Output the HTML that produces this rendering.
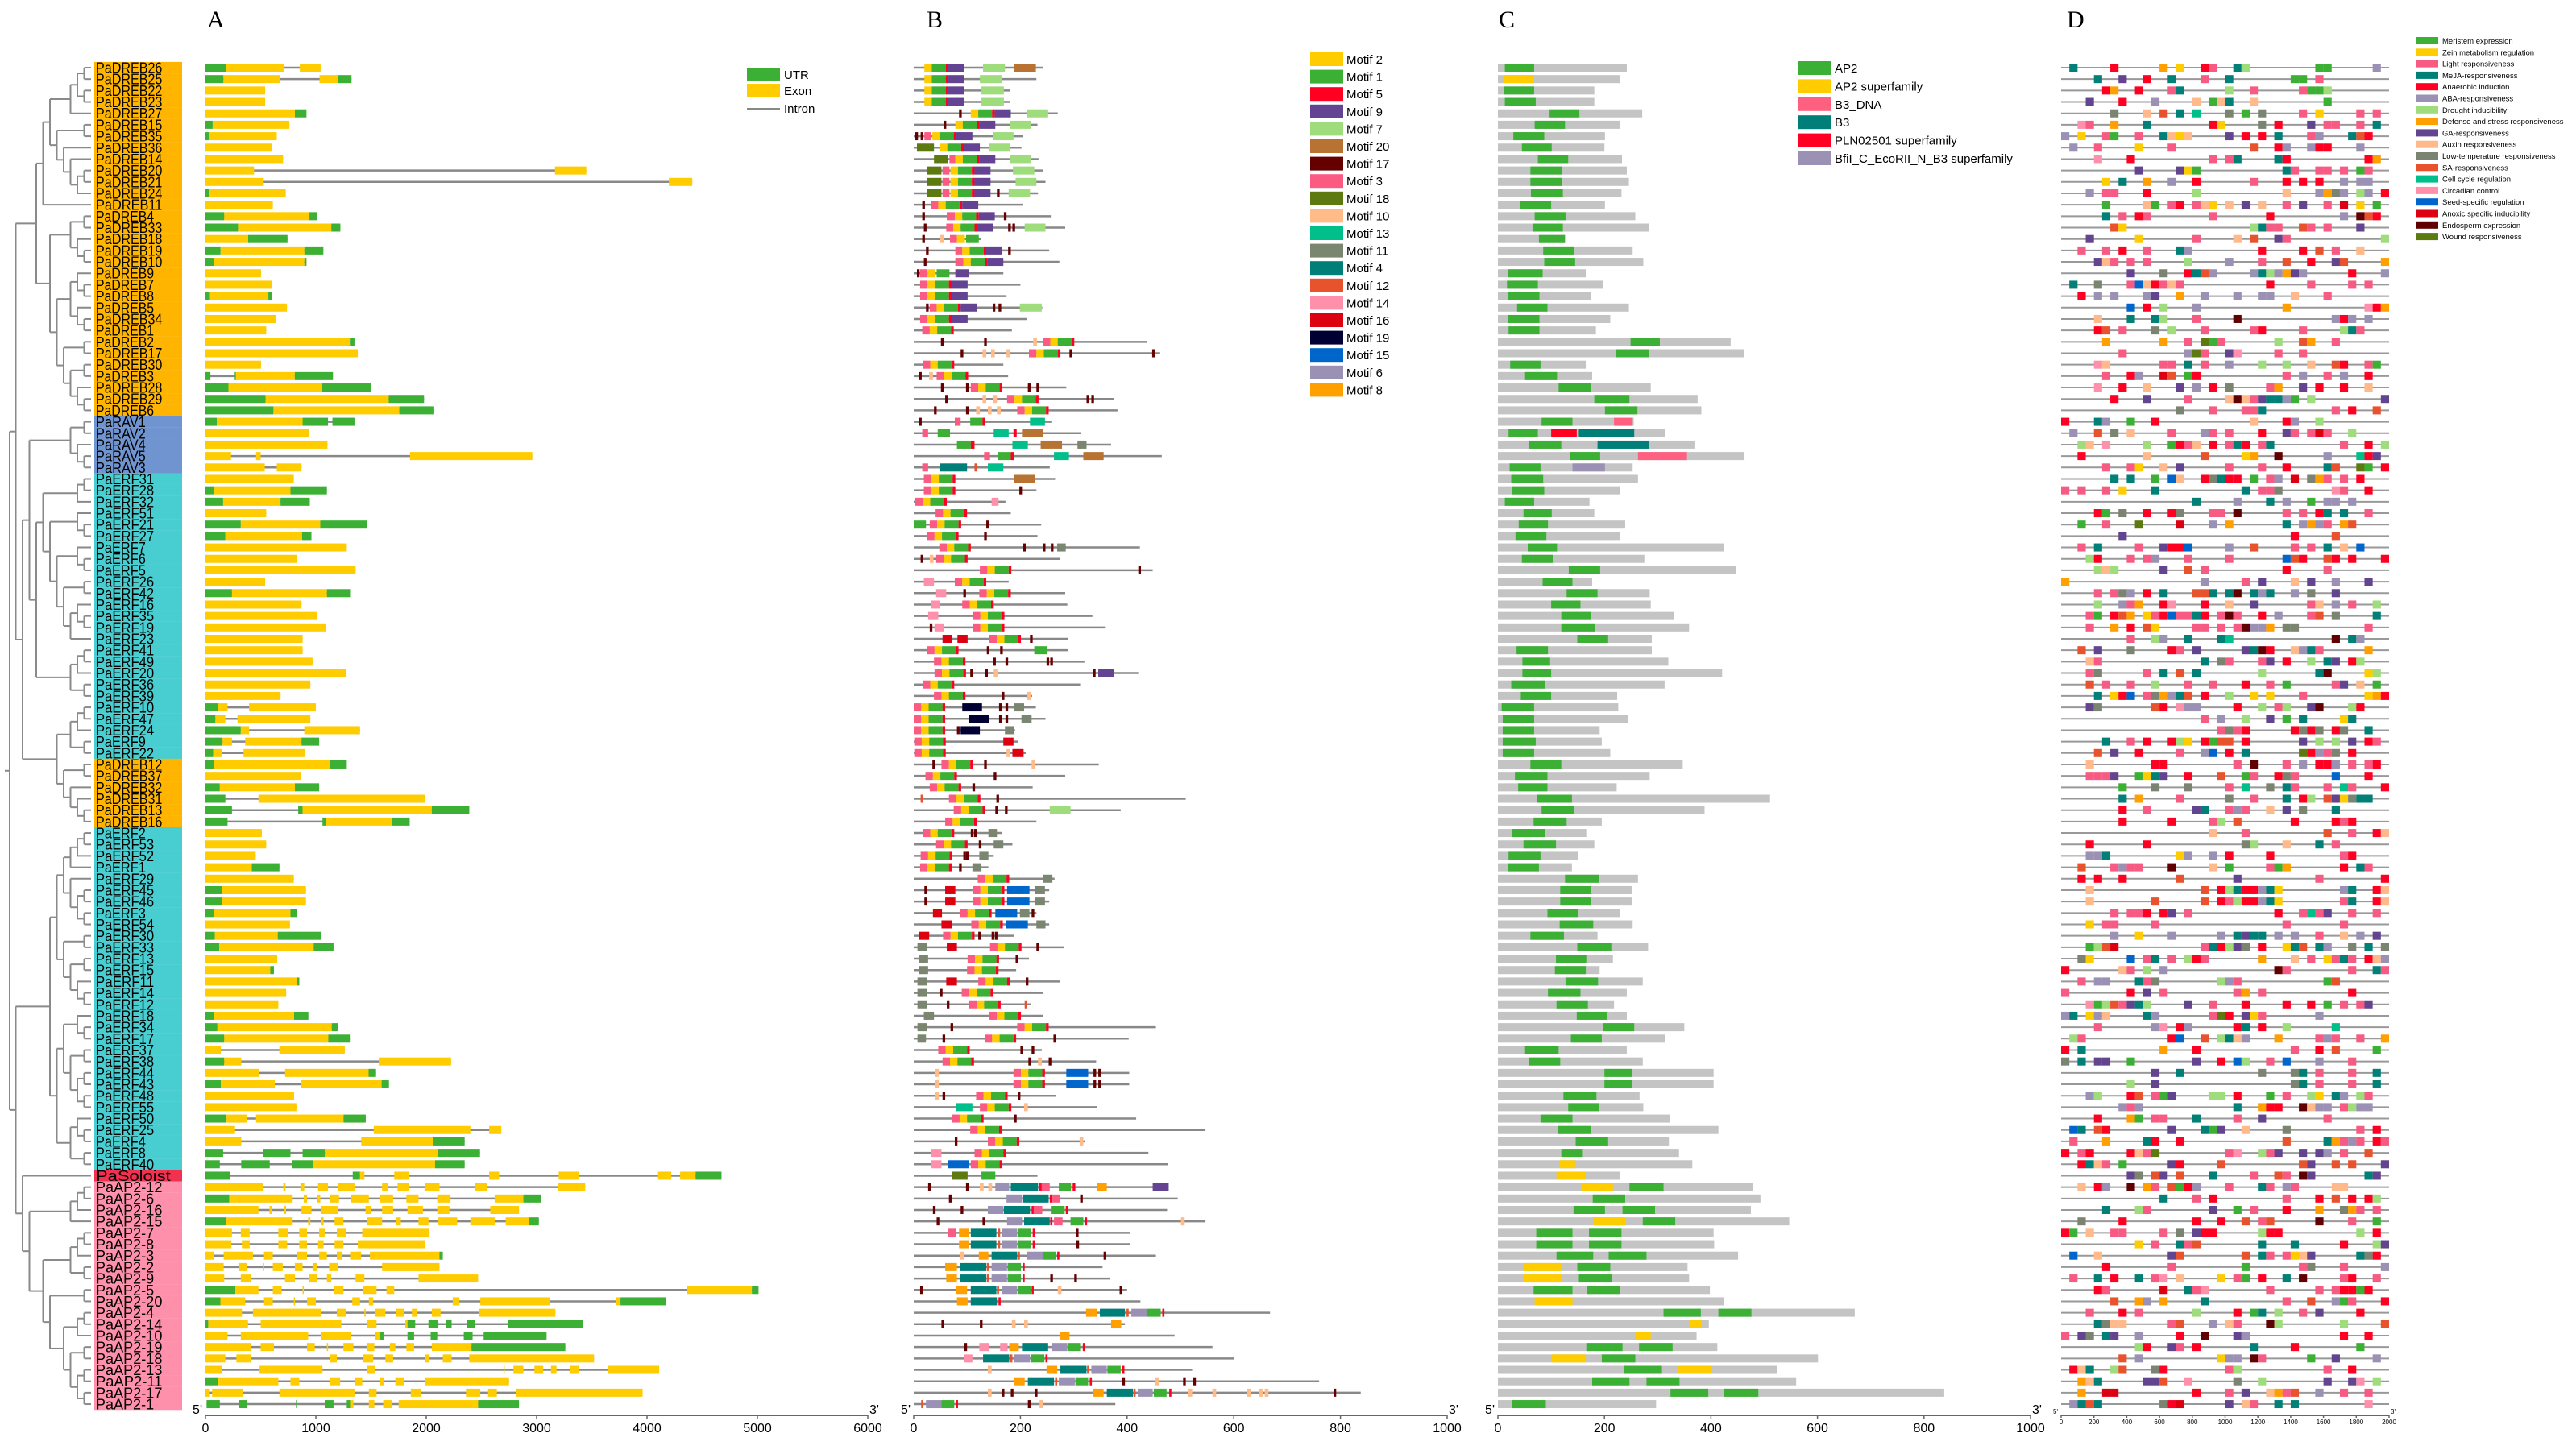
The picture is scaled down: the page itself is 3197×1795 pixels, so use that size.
<!DOCTYPE html>
<html><head><meta charset="utf-8"><title>AP2/ERF gene family figure</title>
<style>
html,body{margin:0;padding:0;background:#fff;}
svg{display:block;font-family:"Liberation Sans",sans-serif;}
</style></head>
<body>
<svg id="fig" xmlns="http://www.w3.org/2000/svg" width="3197" height="1795" viewBox="0 0 3197 1795">
<g font-family="Liberation Serif, serif" font-size="30" fill="#000">
<text x="257" y="34">A</text>
<text x="1150" y="34">B</text>
<text x="1860" y="34">C</text>
<text x="2565" y="34">D</text>
</g>
</svg>
<script>
const genes=["PaDREB26","PaDREB25","PaDREB22","PaDREB23","PaDREB27","PaDREB15","PaDREB35","PaDREB36","PaDREB14","PaDREB20","PaDREB21","PaDREB24","PaDREB11","PaDREB4","PaDREB33","PaDREB18","PaDREB19","PaDREB10","PaDREB9","PaDREB7","PaDREB8","PaDREB5","PaDREB34","PaDREB1","PaDREB2","PaDREB17","PaDREB30","PaDREB3","PaDREB28","PaDREB29","PaDREB6",
"PaRAV1","PaRAV2","PaRAV4","PaRAV5","PaRAV3",
"PaERF31","PaERF28","PaERF32","PaERF51","PaERF21","PaERF27","PaERF7","PaERF6","PaERF5","PaERF26","PaERF42","PaERF16","PaERF35","PaERF19","PaERF23","PaERF41","PaERF49","PaERF20","PaERF36","PaERF39","PaERF10","PaERF47","PaERF24","PaERF9","PaERF22",
"PaDREB12","PaDREB37","PaDREB32","PaDREB31","PaDREB13","PaDREB16",
"PaERF2","PaERF53","PaERF52","PaERF1","PaERF29","PaERF45","PaERF46","PaERF3","PaERF54","PaERF30","PaERF33","PaERF13","PaERF15","PaERF11","PaERF14","PaERF12","PaERF18","PaERF34","PaERF17","PaERF37","PaERF38","PaERF44","PaERF43","PaERF48","PaERF55","PaERF50","PaERF25","PaERF4","PaERF8","PaERF40",
"PaSoloist",
"PaAP2-12","PaAP2-6","PaAP2-16","PaAP2-15","PaAP2-7","PaAP2-8","PaAP2-3","PaAP2-2","PaAP2-9","PaAP2-5","PaAP2-20","PaAP2-4","PaAP2-14","PaAP2-10","PaAP2-19","PaAP2-18","PaAP2-13","PaAP2-11","PaAP2-17","PaAP2-1"];

const treeNewick="(((((((0,1),(2,3)),4),((5,6),(7,(8,((9,10),11))))),12),(((13,14),(15,(16,17))),(((18,(19,20)),(21,(22,23))),((24,25),((26,27),(28,(29,30))))))),((((31,32),(33,(34,35))),((((36,37),38),((39,(40,41)),((42,(43,44)),((45,46),((47,(48,49)),50))))),(((51,52),53),(54,55)))),((((56,57),58),(59,60)),((61,62),(63,(64,(65,66))))))),(((((((67,68),69),70),(71,((72,73),(74,75)))),((76,77),((78,79),(80,(81,82))))),(((83,(84,85)),((86,87),((88,89),(90,91)))),((92,(93,94)),(95,96)))),(97,((((98,99),100),101),(((((102,103),104),(105,106)),((107,108),((((109,110),111),((112,113),((114,115),(116,117))))))))))))";

const geneStruct=["U0-188 E188-712 E855-1043","U0-163 E163-677 E1033-1200 U1200-1323","E0-540","E0-540","E0-810 U810-915","U0-65 E65-760","U0-30 E30-646","E0-605","E0-703","E0-440 E3166-3450",
"E0-528 E4198-4410","U0-30 E30-727","E0-610","U0-170 E170-942 U942-1008","U0-295 E295-1140 U1140-1222","E0-387 U387-743","U0-137 E137-896 U896-1068","U0-76 E76-896 U896-915","E0-503","E0-600",
"U0-40 E40-570 U570-605","E0-738","E0-636","E0-550","E0-1308 U1308-1350","E0-1380","E0-503","U0-45 U265-275 E275-809 U809-1155","U0-208 E208-1058 U1058-1500","U0-545 E545-1660 U1660-1980",
"U0-616 E616-1756 U1756-2072","U0-103 E103-880 U880-1110 U1150-1350","E0-941","E0-1105","E0-232 E458-500 E1853-2961","E0-537 E646-870","E0-800","U0-80 E80-770 U770-1100","U0-160 E160-680 U680-945","E0-550",
"U0-320 E320-1040 U1040-1460","U0-180 E180-875 U875-960","E0-1280","E0-830","E0-1360","E0-540","U0-240 E240-1100 U1100-1310","E0-870","E0-1010","E0-1090",
"E0-880","E0-880","E0-970","E0-1270","E0-950","E0-680","U0-115 E115-200 E395-1000","U0-90 E90-180 E290-950","U0-320 E320-395 E895-1400","U0-155 E155-240 E360-870 U870-1030",
"U0-70 E70-150 E345-900","U0-80 E80-1130 U1130-1280","E0-865","U0-130 E130-810 U810-1030","U0-180 E480-1990","U0-240 U840-880 E880-2050 U2050-2390","U0-200 U1060-1090 E1090-1690 U1690-1850","E0-510","E0-550","E0-455",
"E0-420 U420-670","E0-800","U0-150 E150-910","U0-150 E150-910","U0-75 E75-770 U770-830","E0-765","U0-85 E85-655 U655-1050","U0-125 E125-980 U980-1160","E0-650","E0-587 U587-620",
"E0-830 U830-850","E0-731","E0-660","U0-77 E77-803 U803-932","U0-108 E108-1144 U1144-1200","U0-170 E170-1113 U1113-1308","E0-139 E669-1262","U0-170 E170-324 E1570-2225","E0-484 E721-1478 U1478-1545","U0-139 E139-628 E865-1596 U1596-1662",
"E0-803","E0-824","U0-191 E191-376 E458-1251 U1251-1452","E0-268 E1524-2400 E2570-2680","E0-324 E1411-2060 U2060-2348","U0-160 U520-770 U880-1082 E1082-2105 U2105-2487","U0-130 U324-582 U782-978 E978-2080 U2080-2348","U0-224 U1334-1400 E1400-1440 E1710-1840 E2570-2660 E3200-3380 E4100-4220 E4300-4440 U4440-4675","E0-525 E705-725 E860-895 E1020-1110 E1200-1350 E1600-1650 E1740-1840 E1990-2120 E2440-2550 E3190-3440","U0-215 E215-790 E890-920 E1010-1040 E1130-1210 E1320-1480 E1580-1700 E1820-1930 E2100-2220 E2620-2880 U2880-3040",
"E0-480 E580-600 E710-730 E870-960 E1050-1200 E1450-1500 E1600-1700 E1830-1970 E2100-2210 E2580-2840","U0-190 E190-790 E930-950 E1050-1070 E1170-1250 E1460-1600 E1730-1770 E1930-2020 E2110-2280 E2400-2620 E2720-2930 U2930-3020","E0-240 E320-400 E660-750 E850-920 E1030-1080 E1190-1270 E1420-2030","E0-235 E330-400 E660-740 E850-920 E1020-1070 E1170-1250 E1380-1990","E0-75 E165-430 E530-610 E830-920 E1030-1100 E1190-1240 E1310-1410 E1490-2120 U2120-2150","E0-165 E300-380 E520-530 E610-700 E810-880 E970-1010 E1120-1200 E1600-2120","E0-170 E320-410 E720-810 E940-1010 E1100-1140 E1360-1440 E1930-2470","U0-270 E270-480 E610-690 E880-890 E1160-1250 E1430-1550 E1640-1710 E4360-4950 U4950-5010","U0-135 E135-360 E530-610 E800-810 E920-1000 E1330-1400 E1480-1520 E2240-2300 E2490-3120 E3720-3760 U3760-4170","E0-330 E430-1050 E1190-1270 E1440-1450 E1540-1630 E1730-1800 E1870-1920 E2050-2130 E2480-3170",
"U0-25 E25-385 E500-1230 E1460-1550 E1810-1830 U1830-1900 U2020-2110 U2180-2230 U2370-2440 U2740-3420","E0-200 E320-930 E1050-1320 E1540-1580 U1580-1620 U1830-1890 U2040-2100 U2340-2420 U2520-3090","E0-410 E500-620 E920-990 E1100-1110 E1250-1340 E1460-1530 E1670-1720 E1820-1890 E2050-2410 U2410-3260","E0-180 E280-410 E1130-1190 E1430-1520 E1630-1700 E1990-2030 E2150-2230 E2390-3520","E0-150 E490-1060 E1460-1540 E2700-2710 E2790-2880 E2980-3060 E3130-3180 E3300-3380 E3650-4110","U0-110 E110-660 E770-850 E1130-1220 E1350-1420 E1580-1620 E1720-1800 E1990-2750","E0-40 E60-340 E670-1350 E1480-1550 E1860-1950 E2360-2490 E2560-2640 E2810-3960","U10-130 U300-380 U820-830 U1080-1160 U1280-1310 E1310-1340 E1480-1530 E1610-1690 E1750-2470 U2470-2840"];

const protLen=[242,230,180,180,270,232,205,202,234,242,247,233,204,257,284,126,254,273,168,200,174,241,212,184,437,462,168,177,286,375,382,258,313,370,465,255,265,230,172,182,239,232,424,275,448,178,284,288,335,360,289,290,320,421,312,222,229,247,190,195,210,347,284,223,510,388,230,165,185,150,140,264,254,254,230,254,188,282,216,192,274,243,219,243,454,403,240,342,404,404,267,344,417,547,321,440,477,232,478,495,475,547,405,406,454,354,368,400,425,668,396,489,560,601,522,760,838,378];

const motifSites=["D20 7:130:171 20:188:229","D20 7:124:166","D20 7:127:169","D20 7:127:169","17@85 D107 7:213:252","17@56 D78 7:181:220","17@3 17@13 3:20:33 D35 7:148:187","18:6:38 D49 7:142:181","18:38:64 3:67:78 D78 7:181:220","18:25:52 3:54:67 D69 7:186:226",
"18:25:52 3:54:67 D69 7:191:230","18:25:52 3:54:67 D69 17@156 7:178:218","17@16 3:32:46 D46","17@16 3:62:77 D77 17@169","17@19 3:61:74 D74 17@177 17@185 7:208:247","17@16 10@49 3:68:81 2:81:96 1:98:122","17@23 3:78:91 D91 17@177","17@19 3:78:93 D93","17@6 3:12:26 2:26:41 1:43:67 9:78:104","3:12:26 D26",
"3:12:26 D26","17@23 3:30:43 D43 17@148 17@159 7:199:240","3:12:26 D26","K16","17@51 17@132 10@224 K242","17@88 10@129 10@145 10@174 K216 17@292 17@447","K17","17@10 10@29 K43","17@51 17@98 K107 17@214 17@230","17@59 10@129 10@149 K175 17@324 17@333",
"17@38 17@98 10@117 10@139 10@156 K194","17@10 3:77:88 1:106:129 5:129:134 13:218:246","3:16:27 1:45:68 13:150:178 5:187:193 20:203:242","1:81:107 5:107:114 13:185:214 20:238:278 11:307:324","3:132:143 1:158:182 5:182:188 13:263:291 20:318:356","3:16:27 4:49:100 12@114 13:139:168","K19 20:188:227","K19 17@198","K3 14:146:159","K41",
"1:0:23 K30 17@136","K25 17@132","K48 17@205 17@242 17@257 11:269:285","17@13 10@30 K42","K124 17@421","14:19:38 K77","14:42:61 17@93 K123","14:33:49 K91","14:27:46 K111","17@30 14:39:56 K111",
"16:54:72 16:82:101 K142 17@218","K25 17@137 17@162 1:226:250","K38 17@149 17@172 17@249 17@256","K39 17@106 17@134 10@150 17@336 9:346:375","K17","K38 17@165 10@213","K0 19:91:128 17@160 17@172 11:188:207","K0 19:104:142 17@160 17@172 11:202:221","K0 17@81 19:88:124 11:171:188","K1 16:168:187",
"K1 10@174 16:185:206","17@35 K52 17@132 10@221","K22 17@150","K30 17@110","12@13 K66 17@155","K75 17@153 17@171 7:255:294","K59","K17 17@107 17@113 11:140:156","K42 17@122 11:150:168","K13 17@93 17@98 11:123:140",
"K12 17@85 11:110:127","K120 11:243:260","17@20 16:59:78 K111 15:175:217 11:227:246","17@20 16:59:78 K111 15:175:217 11:227:246","16:36:53 K87 15:153:194 11:199:217 17@221","16:52:71 K108 15:173:214 11:230:247","16:10:29 K55 17@121 17@146 17@152","11:7:25 16:62:81 K143 17@230","11:10:27 K101 17@191","11:10:27 K100",
"11:7:25 16:61:81 K121 17@210","11:7:25 17@49 K90","11:7:25 17@62 K104 12@208","11:19:38 K142","11:7:25 17@69 K194","11:7:23 17@54 K133 17@262","K46 17@200 17@221","K54 17@215 10@233 17@253","10@40 K187 15:286:327 17@337 17@346","10@40 K187 15:286:327 17@337 17@346",
"10@40 17@54 K117 17@195","13:80:110 K124 10@207","K72 17@188","K106","17@77 K139 10@311","14:32:52 K114","14:32:52 15:64:104 K107","18:72:101 1:127:153","17@27 17@98 10@124 10@140 6:153:179 4:182:233 5:234:240 3:240:255 1:272:295 5:298:303 8:343:362 9:448:478","17@66 6:174:203 4:204:253 5:255:260 3:260:275 17@312",
"17@36 17@88 6:139:168 4:169:218 5:221:225 3:225:241 1:257:283 5:285:290","17@43 17@129 6:175:203 4:207:255 5:256:260 3:263:279 1:294:318 5:321:325 10@501","3:65:80 8:85:104 4:107:155 12@158 6:165:194 1:195:220 5:223:227 17@304","8:85:104 4:107:155 12@158 6:165:194 1:195:220 5:223:227 17@305","10@87 8:122:140 4:146:194 12@195 6:213:242 1:243:266 5:269:273 17@356","8:59:81 4:87:136 12@137 6:146:175 1:176:201 5:204:208","8:61:81 4:87:136 12@137 6:146:175 1:176:201 5:204:208 17@256 17@301","17@12 8:80:100 4:107:155 12@156 6:165:194 1:195:220 5:221:225 10@270 17@386","8:81:101 4:107:156 5:159:163","8:323:343 4:349:396 12@399 6:408:437 1:438:463 5:466:470",
"17@52 17@124 10@184 10@207 8:370:389","8:275:292","17@95 14:123:142 14:162:176 8:179:197 4:203:252 6:259:288 1:289:312 5:317:321","14:94:110 4:130:179 12@181 6:188:218 1:220:245 5:247:251","10@139 8:249:269 4:275:324 12@325 6:333:362 1:363:388 5:391:395","8:188:208 4:214:263 12@265 6:272:302 1:303:327 5:330:334 17@391 10@453 17@505 17@524","10@139 17@165 17@182 17@227 8:336:356 4:362:411 12@412 6:420:448 1:450:474 5:479:483 10@515 10@560 10@625 10@648 10@658 17@787","12@14 6:23:52 1:52:76 5:79:83 17@214 10@236"];

const domLen=[242,230,181,181,271,230,201,200,233,242,246,232,201,258,284,126,253,273,165,198,174,246,211,184,437,462,165,177,287,375,382,255,314,369,463,253,263,229,172,181,239,230,424,275,447,177,285,287,331,359,289,289,320,421,313,224,226,245,191,195,211,347,285,223,511,388,195,166,181,150,139,263,252,252,230,253,187,282,216,191,272,242,218,242,350,314,242,272,405,405,266,273,323,414,321,340,365,230,479,493,475,547,405,406,451,356,359,398,425,670,396,373,412,601,524,560,838,297];

const domains=["A13-68","S12-68","A12-68","A13-71","A97-153","A69-126","A29-87","A45-101","A75-132","A61-120","A61-120","A62-122","A41-100","A69-127","A65-122","A77-126","A85-143","A87-145","A19-84","A17-75","A19-78","A36-93","A19-78","A20-78","A249-304","A221-284","A23-80","A51-111","A114-175","A181-247","A201-262","A82-140 D218-253","A20-75 P100-148 T152-256","A59-119 T187-284","A136-192 D263-355","A22-80 F140-201","A25-85","A27-87","A13-68","A48-101","A39-94","A33-91","A56-111","A45-103","A133-192","A84-140","A129-187","A100-155","A119-174","A119-182","A149-207","A35-94","A46-98","A46-100","A25-88","A43-100","A7-68","A9-68","A9-68","A9-71","A9-68","A61-119","A32-93","A38-93","A74-139","A82-143","A67-129","A26-88","A48-109","A20-80","A19-77","A126-190","A117-175","A117-175","A93-150","A116-179","A61-124","A149-213","A109-166","A107-165","A127-188","A94-155","A110-169","A148-205","A198-256","A137-195","A51-114","A59-117","A200-252","A200-252","A123-185","A132-190","A80-140","A113-175","A146-207","A119-158","S116-145","S110-164","S156-216 A247-311","A178-239","A142-201 A234-295","S179-240 A272-333","A72-140 A171-232","A72-140 A171-232","A110-179 A208-279","S48-120 A149-211","S48-120 A152-214","A67-140 A168-229","S69-140","A311-381 A414-476","S359-382","S260-287","A166-234 A265-328","S101-165 A195-258","A237-308 S339-402","A177-247 A279-341","A324-395 A425-489","A27-90"];

const cisElements=["1d6e12h14b17e18c21d22g31a32a38f","4d7i10e13d17c20d28a29a31c","5e6h9e13c14d20g23c29c30a31a32g","3i7e11f16j18a19j20d23j32a","6k10j12l14d16m20k22a24k29c31b36c38c","2n3c6h10d18e19b24k26e30i32c33c36c38d","0f2b5c6a9c12d13j14b15j20i22e24e26d30c31f35d36l37e","1f4c9b13c23l26e27f30f31e32e36f","4n8e18c20c21d26d27e37e38h","9i14i15b16a27d28c31c32c34c36a37c",
"5b7d10h13f16e23c27e29e31e34f36f37f","3f5c6c10e16g27j31f32h33k34f36g37f39e","5a10j11a13c14e16c17j18b20j22i24j27c29i32c34p36b38a","5d7c9e10c18c25e34f36q37l38e","6l7b23g24d25c26c29l30c32c36i","3i9b16c21j23l26i27c39g","2c5c7e10c14d15f24e29e31l33c36j","4i5j6c8c10c15g20f24c27l30e33i34l39h","8i12k15e16d17l18f23f24d25g26f27h28i29f35e39f","1d4k8c9o10j11e12c13j14c25e30c35c37c",
"2e4f6f10f11i14h17f21f24f25f28j32c","8o10e12g16f27h37n38e39h","4j8d11d12g16c21q33f34e35f37f","4e5l7c11k13g17c23c24e29c34g35d36c","5h12h15c17r18a19c26g29l30h33c","7c15f16r17c20i21n26c29c","4n5j12c13c15d17c20f24g27g30j33l34e37c38a","5c8e9f12p13l15a16e27c29f32c34f37e","4n7e10j14i16f18e20k25c26h29i31e34e37j","6e10i15c20j21q22j23c24i25d26d27f28a30g39i",
"14k18c22c23c24d33c35e38l","0e4d5f8a11e23j27e28f31g","1f4l6k8j13c17f18c20c24e27i28c30c31p32c35g","2g3j5n10g13a14e15c16j18e20c21d22e24c25d34c37e39g","2e10j17l22b23h26q32f36m37e38i","5c8c9b12j14i20c24c27e32d33l36r37a39e","6d8d11a13o14j17e18k19d20e21e23a25c26f28p30k31h32c34c36e","0c2c5c7b11d22d24c25c26k33n34c37e","16d21f25d27f30a32f33f35f","4e5a7k10e13e14k18c19c21q27c29c31e32d34d37c",
"2a5c9r14p18f20h27d29f30h31f32c34h35l","7i28e33l","2c4d9c12i13e14e15o20f23l28c30c32d34j36o","3g4e8c10c11f15c20c27o28l29e32l33e35e39e","4g5j6g12i15l17c27e32c","0h17f22c24i28j30i33f37i","4c6c7k8f10e12d16l17l18d20d21q23d24f25d28f30k33i","4g7f8c9h12e13n17e20j23i30c31j33f35c38g","3c4a6e7l8h10b11c12e13o14c15c16d17e19c20q21c24e26f30c31l33k38d","3c6h8e10l11b16c17c19c21c22q23f24f25h27k28k37c",
"8c11g12f15d19d20m33q35d36f","2l4i8k13e14c16i22i23d24q25e28j29f30d31c37h","3j4c17d19k20c24c25i27e30g32d33i35e36g","3c4k10c12d14l16d24g31d32q37b38g","3l5c8c11g15c18c22e25c27a33c34i36j38a","4d6b7e8o10c11k12h13f14d15l17e20g23b25b29c37b38h39e","3i4k11l12e14n15f16f21e24g26c27g30i31q35g36e","17c19f22g25i27a29d34b35d","19c20k21c22e28e29k30e31k33e34k37d","5d8c10e13e14g15b17e18a19l20l22e29i31g33g35i37e38c",
"4l6i9e14c17f18o20e22d29r30e31f32c33k35e","3j11e12e21c23q27c29f31e32e33f35c37c38e","3c4c5c6i9a10b11d12i15e19l22a23c26e27k28c33o37e","7a11k15k20c22m25k27d28c32c34m35c39e","7d9h14c20k23c27d29e30g32l33i34b35k36d37d","7e10c16i17d20c21f22c25j27i29k33d","7e13e18c19g21l28e33e34c35e","18j22c32l35c38e39j","3e10e22k23g27j31d33c","3f4f5d14b15f18f20e25e34c35e",
"2l6c7f8c9c13q18j20a25c26a27h34e36d37c","2e4e7e14l21i31c39e","3j17l19e20g21d22e23e24f25d26b34f35d38e39j","3j11l17l19e20c21g22e23e24f25d26b34c35d38e39j","6c8c9c10e12e13i15c26e29c30m31c32i35c38c","3b5c6c11c27c34c","6f9b13f19f21d22i23d24d26f28f31c34j36f38i","3a4g5l6p17c18d19e20g21i22k24e27b28d29l31d32f35k37d39k","2k3b8o10c11d13c15g16e17c24h28j30c32b33c34d35c37e38j39f","0e7j8c10g12f26q27c35c38d39c",
"2c4f5f9d10c11k19g20f21c32a33l","0c8e10i12c21c22h24c35e","3n4a5g6l7c8i9d10g15i18c22e27e30e32a34c36c37i","0f1d3b4f5j10d11f18c19r20e22i23b24c31f","4c11f12n14e15f21e22d24e27g33m","1g2c13e14o17l19g20d21j22f26h31c32f33c36c39h","0e2d12h16e28c31e33l38a","0k2d4i5i8a16i19e21o22g25c27o31f35c","11i14d24k28k29d31c35c38d","8g11i28k29d31c35c38d",
"3f4g8e9l11c12a13i18g19g21e25a27c30g31b33d34f36g37c","7f8c9f21d24h25e26e29q30j31f32f34c35g36f37f","4e8h9a11c12c16d21c24i32c","1o2d4l5e13i17d18a19i22j27k36c38e","1c5h10d11e14e27l32d33h34c35f36c38e39c","0e2c3e8e9j10c11r20c21n24g25c26i29i31i32f34c37l","2e3d4j5c7a13i14e19l29l30i33l35l39i","8i9k11l12i14l18d23c26l27c29q30i37d38i","2j4e5f8q10h11c13l14a15e16f20c24d25c27f28c33j34j","12d16c18e27c31e33l35e37e38g",
"5d9g10c18i21a23c27e31h34k35h36c38c","2k7e16e19e22l24c25l31q35c38a","0e1a3j6c7c12c14k16i17e18e24g25e26e36g38e","9b11c14d15c16l24d28d34e38g39i","1o4j13i14l22l24d25c27c28b29j30i36d37k38e","5e13c22a29c30k34c39f","1c4d6e9d11c12n14j19b21c22a24e27d29q34c35e38c","4e5c12p15d16c17n25c31c33c34e35e36a37e","6l9h10f12h17d27c30l33f34a35c39e","3c7e9c16g21e23a24d26g29c31i36e",
"4d5k6j7j13c14l18f20j21c25q26g34g39l","0c2i3k5d6i9f14e17q21i22f34e37e","9g10e13i14c16e23d28e36a","7l9f19b20f21f23q24c30a33i38f","1e2j3d6g7l11k12e20c21g32c35e","2h3j4d10i11i12l15n21k24g32i35i36n38g","2h5p6p16e20c22i25j26h27c28l31f34c37c","1f2d3l4d12k13e14p20i22j23c26d28d37n"];

const motifIds=[2,1,5,9,7,20,17,3,18,10,13,11,4,12,14,16,19,15,6,8];
const domainKeys=["A","S","D","T","P","F"];
const domainNames=["AP2","AP2 superfamily","B3_DNA","B3","PLN02501 superfamily","BfiI_C_EcoRII_N_B3 superfamily"];
const cisKeys=["a","b","c","d","e","f","g","h","i","j","k","l","m","n","o","p","q","r"];
const cisNames=["Meristem expression","Zein metabolism regulation","Light responsiveness","MeJA-responsiveness","Anaerobic induction","ABA-responsiveness","Drought inducibility","Defense and stress responsiveness","GA-responsiveness","Auxin responsiveness","Low-temperature responsiveness","SA-responsiveness","Cell cycle regulation","Circadian control","Seed-specific regulation","Anoxic specific inducibility","Endosperm expression","Wound responsiveness"];
const ticksA=[0,1000,2000,3000,4000,5000,6000];
const ticksB=[0,200,400,600,800,1000];
const ticksC=[0,200,400,600,800,1000];
const ticksD=[0,200,400,600,800,1000,1200,1400,1600,1800,2000];

var motifColor={2:"#ffcc00",1:"#3cb034",5:"#ff0022",9:"#634392",7:"#9fdc7c",20:"#b87333",17:"#660000",3:"#fb5b83",18:"#5d7a10",10:"#ffbb88",13:"#00bf8a",11:"#7a8670",4:"#007f78",12:"#e8532e",14:"#ff90ab",16:"#dd0010",19:"#000033",15:"#0066cc",6:"#9a91b5",8:"#ffa000"};
var smallW={17:5,10:7,12:4};
var domainColor={A:"#3cb034",S:"#ffcc00",D:"#ff6080",T:"#007f78",P:"#ff0022",F:"#9a91b5"};
var cisColor={a:"#3cb034",b:"#ffcc00",c:"#f75b83",d:"#008076",e:"#ff0022",f:"#9a91b5",g:"#9fdc7c",h:"#ffa000",i:"#63448f",j:"#ffb98a",k:"#7a8470",l:"#e8532e",m:"#00bf8a",n:"#ff90ab",o:"#0066cc",p:"#dd0010",q:"#610000",r:"#5d7a10"};

var NS="http://www.w3.org/2000/svg";
var svgRoot=document.getElementById("fig");
function mk(tag,attrs,parent){var e=document.createElementNS(NS,tag);for(var k in attrs){e.setAttribute(k,attrs[k]);}(parent||svgRoot).appendChild(e);return e;}
function grp(name){var g=mk("g",{});return g;}
function rowY(i){return 84+i*14.18;}
function xA(v){return 255+v*(822/6000);}
function xB(v){return 1134+v*(662/1000);}
function xC(v){return 1859+v*(661/1000);}
function xD(v){return 2558+v*(407/2000);}
var BH=10;
function matchAllRe(s,re){var out=[];var m;re.lastIndex=0;while((m=re.exec(s))!==null){out.push(m);}return out;}

function familyColor(n){if(n.indexOf("PaDREB")===0)return"#ffb400";if(n.indexOf("PaRAV")===0)return"#7094cf";if(n.indexOf("PaERF")===0)return"#48cdd1";if(n.indexOf("PaSoloist")===0)return"#f2304f";return"#ff90ab";}

function parseTree(s){var stack=[[]];var num="";for(var i=0;i<s.length;i++){var ch=s[i];if(ch>="0"&&ch<="9"){num+=ch;continue;}if(num!==""){stack[stack.length-1].push(+num);num="";}if(ch==="("){stack.push([]);}else if(ch===")"){if(stack.length>1){var n=stack.pop();stack[stack.length-1].push(n);}}}if(num!==""){stack[stack.length-1].push(+num);}while(stack.length>1){var n2=stack.pop();stack[stack.length-1].push(n2);}var r=stack[0];return r.length===1?r[0]:r;}

/* tree */
try{
  var gT=grp("phylogenetic-tree");
  var treeData=parseTree(treeNewick);
  function nodeHeight(n){if(!Array.isArray(n))return 0;var m=0;for(var i=0;i<n.length;i++){m=Math.max(m,nodeHeight(n[i]));}return m+1;}
  function drawNode(n){
    if(!Array.isArray(n))return{x:113,y:rowY(n)};
    var ch=n.map(function(c){return drawNode(c);});
    var x=Math.max(12,113-nodeHeight(n)*8.5);
    var ys=ch.map(function(c){return c.y;});
    var y0=Math.min.apply(null,ys),y1=Math.max.apply(null,ys);
    var v=mk("line",{x1:x,x2:x,y1:y0,y2:y1,stroke:"#8a8a8a","stroke-width":2},gT);
    
    
    ch.forEach(function(c){var h=mk("line",{x1:x,x2:c.x,y1:c.y,y2:c.y,stroke:"#8a8a8a","stroke-width":2},gT);
      
      });
    return{x:x,y:(y0+y1)/2};
  }
  var rootNode=drawNode(treeData);
  var rl=mk("line",{x1:rootNode.x-6,x2:rootNode.x,y1:rootNode.y,y2:rootNode.y,stroke:"#8a8a8a","stroke-width":2},gT);
  
  
}catch(e){console.error(e);}

/* gene labels */
try{
  var gL=grp("gene-labels");
  genes.forEach(function(n,i){
    var y=rowY(i);
    var r=mk("rect",{x:117,y:y-7.1,width:109,height:14.3,fill:familyColor(n)},gL);
    
    
    var t=mk("text",{x:119,y:y+6.5,"font-size":18,fill:"#000",textLength:n.length*10.3,lengthAdjust:"spacingAndGlyphs"},gL);
    t.textContent=n;
    
    
  });
}catch(e){console.error(e);}

/* panel A */
try{
  var gA=grp("gene-structure-panel");
  geneStruct.forEach(function(s,i){
    var y=rowY(i);
    var segs=matchAllRe(s,/([UE])(\d+)-(\d+)/g).map(function(m){return{t:m[1],a:+m[2],b:+m[3]};});
    if(!segs.length)return;
    var lo=Math.min.apply(null,segs.map(function(q){return q.a;})),hi=Math.max.apply(null,segs.map(function(q){return q.b;}));
    var ln=mk("line",{x1:xA(lo),x2:xA(hi),y1:y,y2:y,stroke:"#888","stroke-width":2.5},gA);
    
    
    segs.forEach(function(q){
      var r=mk("rect",{x:xA(q.a),y:y-BH/2,width:Math.max(1.5,xA(q.b)-xA(q.a)),height:BH,fill:q.t==="U"?"#3cb034":"#ffcc00"},gA);
      
      
    });
  });
}catch(e){console.error(e);}

/* panel B */
function parseMotifs(s){
  var out=[];
  s.split(" ").forEach(function(tok){
    var m;
    if((m=tok.match(/^K(\d+)$/))){var a=+m[1];out.push([3,a,a+14],[2,a+14,a+28],[1,a+28,a+54],[5,a+54,a+59]);}
    else if((m=tok.match(/^D(\d+)$/))){var d=+m[1];out.push([2,d,d+14],[1,d+14,d+40],[5,d+40,d+45],[9,d+45,d+75]);}
    else if((m=tok.match(/^(\d+)@(\d+)$/))){var id=+m[1],p=+m[2];out.push([id,p,p+(smallW[id]||6)]);}
    else if((m=tok.match(/^(\d+):(\d+):(\d+)$/))){out.push([+m[1],+m[2],+m[3]]);}
  });
  return out;
}
try{
  var gB=grp("motif-panel");
  motifSites.forEach(function(s,i){
    var y=rowY(i);
    var ln=mk("line",{x1:xB(0),x2:xB(protLen[i]),y1:y,y2:y,stroke:"#888","stroke-width":2.5},gB);
    
    
    parseMotifs(s).forEach(function(q){
      var r=mk("rect",{x:xB(q[1]),y:y-BH/2,width:Math.max(2,xB(q[2])-xB(q[1])),height:BH,fill:motifColor[q[0]]||"#999"},gB);
      
      
    });
  });
}catch(e){console.error(e);}

/* panel C */
try{
  var gC=grp("domain-panel");
  domains.forEach(function(s,i){
    var y=rowY(i);
    var b=mk("rect",{x:xC(0),y:y-BH/2,width:xC(domLen[i])-xC(0),height:BH,fill:"#c4c4c4"},gC);
    
    
    matchAllRe(s,/([ASDTPF])(\d+)-(\d+)/g).forEach(function(m){
      var r=mk("rect",{x:xC(+m[2]),y:y-BH/2,width:xC(+m[3])-xC(+m[2]),height:BH,fill:domainColor[m[1]]},gC);
      
      
    });
  });
}catch(e){console.error(e);}

/* panel D */
try{
  var gD=grp("cis-element-panel");
  cisElements.forEach(function(s,i){
    var y=rowY(i);
    var ln=mk("line",{x1:xD(0),x2:xD(2000),y1:y,y2:y,stroke:"#999","stroke-width":2},gD);
    
    
    matchAllRe(s,/(\d+)([a-r])/g).forEach(function(m){
      var a=(+m[1])*50;
      var r=mk("rect",{x:xD(a),y:y-BH/2,width:xD(a+50)-xD(a),height:BH,fill:cisColor[m[2]]},gD);
      
      
    });
  });
}catch(e){console.error(e);}

/* axes */
function axis(name,x0,x1,ticks,sc,fs,tl){
  var g=grp(name);
  var y=1757;
  var l=mk("line",{x1:x0,x2:x1,y1:y,y2:y,stroke:"#666","stroke-width":2},g);
  
  
  ticks.forEach(function(v){
    var x=sc(v);
    var t=mk("line",{x1:x,x2:x,y1:y,y2:y+tl,stroke:"#666","stroke-width":1.5},g);
    
    
    var tx=mk("text",{x:x,y:y+tl+fs,"font-size":fs,"text-anchor":"middle",fill:"#000"},g);
    tx.textContent=String(v);
    
    
  });
  var a=mk("text",{x:x0-4,y:y-2,"font-size":fs,"text-anchor":"end",fill:"#000"},g);
  a.textContent="5'";
  
  
  var b=mk("text",{x:x1+2,y:y-2,"font-size":fs,fill:"#000"},g);
  b.textContent="3'";
  
  
}
try{
  axis("x-axis-a",xA(0),xA(6000),ticksA,xA,16,5);
  axis("x-axis-b",xB(0),xB(1000),ticksB,xB,16,5);
  axis("x-axis-c",xC(0),xC(1000),ticksC,xC,16,5);
  axis("x-axis-d",xD(0),xD(2000),ticksD,xD,8,3);
}catch(e){console.error(e);}

/* legends */
try{
  var gLA=grp("legend-a");
  [["UTR","#3cb034",84],["Exon","#ffcc00",104]].forEach(function(e){
    var r=mk("rect",{x:927,y:e[2],width:41,height:17,fill:e[1]},gLA);
    
    
    var t=mk("text",{x:973,y:e[2]+14,"font-size":15,fill:"#000"},gLA);
    t.textContent=e[0];
    
    
  });
  var il=mk("line",{x1:927,x2:968,y1:135,y2:135,stroke:"#888","stroke-width":2},gLA);
  
  
  var itx=mk("text",{x:973,y:140,"font-size":15,fill:"#000"},gLA);
  itx.textContent="Intron";
  
  

  var gLB=grp("legend-b");
  motifIds.forEach(function(id,k){
    var y=65+k*21.6;
    var r=mk("rect",{x:1626,y:y,width:41,height:17,fill:motifColor[id]},gLB);
    
    
    var t=mk("text",{x:1671,y:y+14,"font-size":15,fill:"#000"},gLB);
    t.textContent="Motif "+id;
    
    
  });

  var gLC=grp("legend-c");
  domainKeys.forEach(function(k,j){
    var y=76+j*22.4;
    var r=mk("rect",{x:2232,y:y,width:41,height:17,fill:domainColor[k]},gLC);
    
    
    var t=mk("text",{x:2277,y:y+14,"font-size":15,fill:"#000"},gLC);
    t.textContent=domainNames[j];
    
    
  });

  var gLD=grp("legend-d");
  cisKeys.forEach(function(k,j){
    var y=46+j*14.3;
    var r=mk("rect",{x:2999,y:y,width:27,height:9,fill:cisColor[k]},gLD);
    
    
    var t=mk("text",{x:3031,y:y+8,"font-size":9.5,fill:"#000"},gLD);
    t.textContent=cisNames[j];
    
    
  });
}catch(e){console.error(e);}
</script>
</body></html>
